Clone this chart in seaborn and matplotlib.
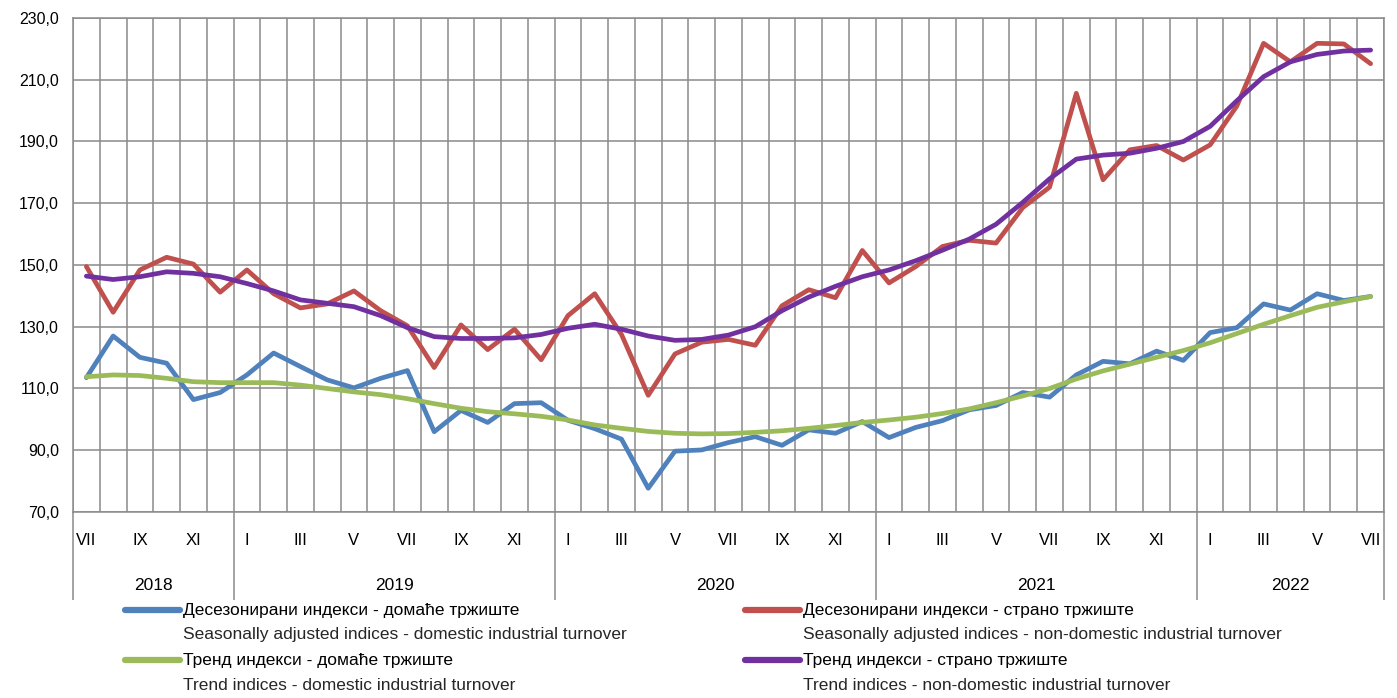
import matplotlib.pyplot as plt
import pandas as pd
import seaborn as sns
from matplotlib.lines import Line2D
from matplotlib.ticker import FixedLocator, FuncFormatter

# Months: VII 2018 .. VII 2022
START_YEAR = 2018
START_MONTH = 7
ROMAN = ["I", "II", "III", "IV", "V", "VI", "VII", "VIII", "IX", "X", "XI", "XII"]
YEARS = ["2018", "2019", "2020", "2021", "2022"]
Y_TICKS = [70, 90, 110, 130, 150, 170, 190, 210, 230]

domestic_sa = [
    113.5, 127.0, 120.1, 118.2, 106.4, 108.7, 114.4, 121.5, 117.1, 112.8,
    110.2, 113.3, 115.8, 96.0, 102.9, 99.0, 105.1, 105.4, 99.7, 97.0,
    93.6, 77.7, 89.7, 90.1, 92.5, 94.4, 91.6, 96.6, 95.5, 99.3,
    94.1, 97.4, 99.6, 103.1, 104.5, 108.7, 107.2, 114.4, 118.8, 118.0,
    122.1, 119.1, 128.1, 129.7, 137.4, 135.4, 140.7, 138.5, 139.8,
]
nondomestic_sa = [
    149.5, 134.7, 148.4, 152.5, 150.3, 141.2, 148.4, 140.7, 136.1, 137.4,
    141.6, 135.2, 130.3, 116.8, 130.6, 122.6, 129.2, 119.3, 133.6, 140.7,
    127.5, 107.8, 121.2, 125.0, 125.9, 124.0, 136.8, 142.0, 139.4, 154.7,
    144.2, 149.5, 156.0, 158.0, 157.1, 168.6, 175.2, 205.6, 177.6, 187.3,
    188.7, 184.0, 188.9, 201.5, 221.8, 215.8, 221.8, 221.6, 215.2,
]
domestic_trend = [
    113.8, 114.4, 114.2, 113.3, 112.2, 111.9, 111.9, 111.9, 111.1, 110.0,
    108.9, 108.0, 106.7, 105.1, 103.6, 102.5, 101.8, 101.0, 99.8, 98.2,
    97.1, 96.1, 95.5, 95.3, 95.4, 95.8, 96.3, 97.1, 98.0, 99.0,
    99.8, 100.7, 101.9, 103.4, 105.4, 107.6, 110.0, 113.1, 115.7, 117.9,
    120.1, 122.3, 124.8, 127.8, 130.8, 133.6, 136.3, 138.1, 139.8,
]
nondomestic_trend = [
    146.4, 145.3, 146.2, 147.8, 147.3, 146.2, 144.0, 141.6, 138.7, 137.6,
    136.5, 133.6, 129.7, 126.8, 126.2, 126.2, 126.4, 127.5, 129.5, 130.8,
    129.2, 127.0, 125.6, 125.9, 127.3, 130.0, 135.2, 139.6, 143.1, 146.2,
    148.4, 151.4, 154.8, 158.4, 163.2, 170.3, 177.9, 184.3, 185.6, 186.2,
    187.8, 190.0, 194.9, 203.2, 211.0, 215.8, 218.2, 219.3, 219.6,
]

SERIES = [
    ("Десезонирани индекси - домаће тржиште",
     "Seasonally adjusted indices - domestic industrial turnover", domestic_sa, "#4F81BD"),
    ("Десезонирани индекси - страно тржиште",
     "Seasonally adjusted indices - non-domestic industrial turnover", nondomestic_sa, "#C0504D"),
    ("Тренд индекси - домаће тржиште",
     "Trend indices - domestic industrial turnover", domestic_trend, "#9BBB59"),
    ("Тренд индекси - страно тржиште",
     "Trend indices - non-domestic industrial turnover", nondomestic_trend, "#7030A0"),
]

GRID = "#8a8a8a"


def build_frame():
    rows = []
    for name, _, values, _ in SERIES:
        for i, v in enumerate(values):
            rows.append({"idx": i, "value": v, "series": name})
    return pd.DataFrame(rows)


def main():
    sns.set_style("white")
    plt.rcParams["font.family"] = ["Liberation Sans", "DejaVu Sans"]

    df = build_frame()
    n = len(domestic_sa)

    fig = plt.figure(figsize=(13.97, 6.98), dpi=100)
    ax = fig.add_axes([73 / 1397, 1 - 512 / 698, (1384 - 73) / 1397, 494 / 698])

    sns.lineplot(
        data=df, x="idx", y="value", hue="series",
        hue_order=[s[0] for s in SERIES],
        palette=[s[3] for s in SERIES],
        linewidth=3.4, legend=False, ax=ax,
    )

    ax.set_xlim(-0.5, n - 0.5)
    ax.set_ylim(Y_TICKS[0], Y_TICKS[-1])
    ax.yaxis.set_major_locator(FixedLocator(Y_TICKS))
    ax.yaxis.set_major_formatter(FuncFormatter(lambda v, _: f"{v:.1f}".replace(".", ",")))
    ax.set_xlabel("")
    ax.set_ylabel("")

    # month labels on every other month, boundaries as minor ticks
    months = [(START_MONTH - 1 + i) % 12 for i in range(n)]
    major = list(range(0, n, 2))
    ax.xaxis.set_major_locator(FixedLocator(major))
    ax.set_xticklabels([ROMAN[months[i]] for i in major])
    ax.xaxis.set_minor_locator(FixedLocator([i - 0.5 for i in range(n + 1)]))
    ax.tick_params(axis="x", which="major", length=0, pad=15, labelsize=12, labelcolor="black")
    ax.tick_params(axis="x", which="minor", length=31, width=1.0, color=GRID)
    ax.tick_params(axis="y", which="major", length=7, width=1.0, color=GRID,
                   labelsize=11.5, pad=3, labelcolor="black")

    ax.grid(True, axis="y", which="major", color=GRID, linewidth=1.1)
    ax.grid(True, axis="x", which="minor", color=GRID, linewidth=1.1)
    ax.grid(False, axis="x", which="major")
    for sp in ax.spines.values():
        sp.set_color(GRID)
        sp.set_linewidth(1.1)

    # year groups
    year_idx = [(START_MONTH - 1 + i) // 12 for i in range(n)]
    bounds = [-0.5] + [i - 0.5 for i in range(1, n) if year_idx[i] != year_idx[i - 1]] + [n - 0.5]
    trans = ax.get_xaxis_transform()
    ax.vlines(bounds, 0, -88 / 494, transform=trans, colors=GRID, linewidth=1.1, clip_on=False)
    for k, year in enumerate(YEARS):
        ax.text((bounds[k] + bounds[k + 1]) / 2, -73 / 494, year, transform=trans,
                ha="center", va="center", fontsize=12.5, color="black")

    # legend, two columns
    cols = [(125, 183), (745, 803)]
    rows_y = [610, 660]
    for k, (cyr, eng, _, color) in enumerate(SERIES):
        x0, xt = cols[k % 2]
        y = rows_y[k // 2]
        fig.add_artist(Line2D([x0 / 1397, (x0 + 55) / 1397],
                              [1 - y / 698, 1 - y / 698], color=color,
                              linewidth=4.5, solid_capstyle="round"))
        fig.text(xt / 1397, 1 - y / 698, cyr, ha="left", va="center",
                 fontsize=12.5, color="black")
        fig.text(xt / 1397, 1 - (y + 25) / 698, eng, ha="left", va="center",
                 fontsize=12.5, color="#262626")

    fig.savefig("out.png", dpi=100)
    plt.close(fig)


if __name__ == "__main__":
    main()
